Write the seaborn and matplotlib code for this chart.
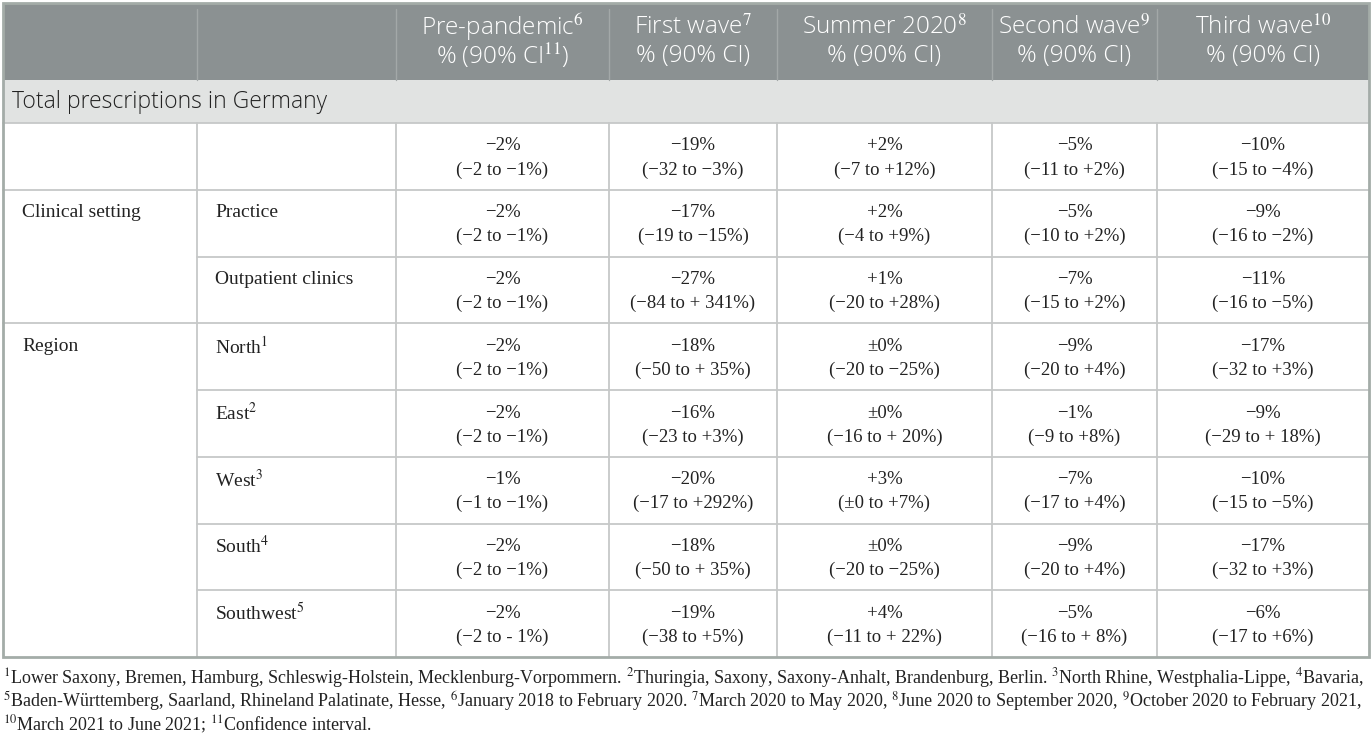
import matplotlib
matplotlib.use("Agg")
import matplotlib.pyplot as plt
import seaborn as sns
from matplotlib.patches import Rectangle

# ---- table content ----
periods = ["Pre-pandemic", "First wave", "Summer 2020", "Second wave", "Third wave"]
period_notes = ["6", "7", "8", "9", "10"]
ci_notes = ["11", "", "", "", ""]
section_title = "Total prescriptions in Germany"

groups = ["", "Clinical setting", "Region"]
group_spans = [1, 2, 5]
row_labels = ["", "Practice", "Outpatient clinics", "North", "East", "West", "South", "Southwest"]
row_notes = ["", "", "", "1", "2", "3", "4", "5"]

change_pre = [-2, -2, -2, -2, -2, -1, -2, -2]
change_first = [-19, -17, -27, -18, -16, -20, -18, -19]
change_summer = [2, 2, 1, 0, 0, 3, 0, 4]
change_second = [-5, -5, -7, -9, -1, -7, -9, -5]
change_third = [-10, -9, -11, -17, -9, -10, -17, -6]

ci_pre = ["(−2 to −1%)", "(−2 to −1%)", "(−2 to −1%)", "(−2 to −1%)",
          "(−2 to −1%)", "(−1 to −1%)", "(−2 to −1%)", "(−2 to - 1%)"]
ci_first = ["(−32 to −3%)", "(−19 to −15%)", "(−84 to + 341%)", "(−50 to + 35%)",
            "(−23 to +3%)", "(−17 to +292%)", "(−50 to + 35%)", "(−38 to +5%)"]
ci_summer = ["(−7 to +12%)", "(−4 to +9%)", "(−20 to +28%)", "(−20 to −25%)",
             "(−16 to + 20%)", "(±0 to +7%)", "(−20 to −25%)", "(−11 to + 22%)"]
ci_second = ["(−11 to +2%)", "(−10 to +2%)", "(−15 to +2%)", "(−20 to +4%)",
             "(−9 to +8%)", "(−17 to +4%)", "(−20 to +4%)", "(−16 to + 8%)"]
ci_third = ["(−15 to −4%)", "(−16 to −2%)", "(−16 to −5%)", "(−32 to +3%)",
            "(−29 to + 18%)", "(−15 to −5%)", "(−32 to +3%)", "(−17 to +6%)"]

footnotes = [
    "$^{1}$Lower Saxony, Bremen, Hamburg, Schleswig-Holstein, Mecklenburg-Vorpommern. "
    "$^{2}$Thuringia, Saxony, Saxony-Anhalt, Brandenburg, Berlin. "
    "$^{3}$North Rhine, Westphalia-Lippe, $^{4}$Bavaria,",
    "$^{5}$Baden-Württemberg, Saarland, Rhineland Palatinate, Hesse, "
    "$^{6}$January 2018 to February 2020. $^{7}$March 2020 to May 2020, "
    "$^{8}$June 2020 to September 2020, $^{9}$October 2020 to February 2021,",
    "$^{10}$March 2021 to June 2021; $^{11}$Confidence interval.",
]

changes = [change_pre, change_first, change_summer, change_second, change_third]
cis = [ci_pre, ci_first, ci_summer, ci_second, ci_third]


def fmt_change(v):
    sign = "±" if v == 0 else ("+" if v > 0 else "−")
    return f"{sign}{abs(v)}%"


# ---- layout (pixels) ----
W, H = 1372, 739
col_edges = [3, 197, 396, 609, 777, 992, 1157, 1369]
header_top, header_bot = 3, 80
section_bot = 123
row_h = 66.75
row_tops = [section_bot + i * row_h for i in range(len(row_labels) + 1)]
table_bot = row_tops[-1]

header_bg = "#8b9192"
header_sep = "#a3a8a8"
section_bg = "#e1e3e2"
grid_col = "#c6c8c8"
border_col = "#a4aca8"
text_col = "#222222"

sns.set_theme(style="white")
plt.rcParams["mathtext.fontset"] = "stix"
plt.rcParams["font.family"] = ["Liberation Serif", "DejaVu Serif"]

fig = plt.figure(figsize=(W / 100, H / 100), dpi=100)
ax = fig.add_axes([0, 0, 1, 1])
ax.set_xlim(0, W)
ax.set_ylim(H, 0)
ax.axis("off")

sans = ["Open Sans", "DejaVu Sans"]
serif = ["Liberation Serif", "DejaVu Serif"]

# header band
ax.add_patch(Rectangle((col_edges[0], header_top), col_edges[-1] - col_edges[0],
                       header_bot - header_top, color=header_bg, lw=0, zorder=1))
for x in col_edges[1:-1]:
    ax.plot([x, x], [header_top + 6, header_bot], color=header_sep, lw=1, zorder=2)
for j, name in enumerate(periods):
    cx = (col_edges[j + 2] + col_edges[j + 3]) / 2
    ax.text(cx, 27, f"{name}$^{{{period_notes[j]}}}$", ha="center", va="center",
            color="white", fontsize=17.5, family=sans, fontweight="light", zorder=3)
    ci = "% (90% CI" + (f"$^{{{ci_notes[j]}}}$" if ci_notes[j] else "") + ")"
    ax.text(cx, 56, ci, ha="center", va="center",
            color="white", fontsize=17.5, family=sans, fontweight="light", zorder=3)

# section band
ax.add_patch(Rectangle((col_edges[0], header_bot), col_edges[-1] - col_edges[0],
                       section_bot - header_bot, color=section_bg, lw=0, zorder=1))
ax.text(12, (header_bot + section_bot) / 2, section_title, ha="left", va="center",
        color=text_col, fontsize=16.5, family=sans, fontweight="light", zorder=3)

# grid lines
ax.plot([col_edges[0], col_edges[-1]], [section_bot, section_bot], color=grid_col, lw=1.3, zorder=2)
group_starts = []
k = 0
for span in group_spans:
    group_starts.append(k)
    k += span
for i in range(1, len(row_labels)):
    x0 = col_edges[0] if i in group_starts else col_edges[1]
    ax.plot([x0, col_edges[-1]], [row_tops[i], row_tops[i]], color=grid_col, lw=1.3, zorder=2)
for x in col_edges[1:-1]:
    ax.plot([x, x], [section_bot, table_bot], color=grid_col, lw=1.3, zorder=2)

# row labels
for g, start in zip(groups, group_starts):
    if g:
        ax.text(22, row_tops[start] + 23, g, ha="left", va="center",
                color=text_col, fontsize=14, family=serif, zorder=3)
for i, lab in enumerate(row_labels):
    if lab:
        txt = lab + (f"$^{{{row_notes[i]}}}$" if row_notes[i] else "")
        ax.text(215, row_tops[i] + 23, txt, ha="left", va="center",
                color=text_col, fontsize=14, family=serif, zorder=3)

# values
for j in range(len(periods)):
    cx = (col_edges[j + 2] + col_edges[j + 3]) / 2
    for i in range(len(row_labels)):
        ax.text(cx, row_tops[i] + 23, fmt_change(changes[j][i]), ha="center", va="center",
                color=text_col, fontsize=13.5, family=serif, zorder=3)
        ax.text(cx, row_tops[i] + 47, cis[j][i], ha="center", va="center",
                color=text_col, fontsize=13.5, family=serif, zorder=3)

# outer border
ax.add_patch(Rectangle((col_edges[0], header_top), col_edges[-1] - col_edges[0],
                       table_bot - header_top, fill=False, ec=border_col, lw=2, zorder=4))

# footnotes
for n, line in enumerate(footnotes):
    ax.text(3, 678 + n * 23.5, line, ha="left", va="center",
            color=text_col, fontsize=13, family=serif, zorder=3)

fig.savefig("out.png", dpi=100)
